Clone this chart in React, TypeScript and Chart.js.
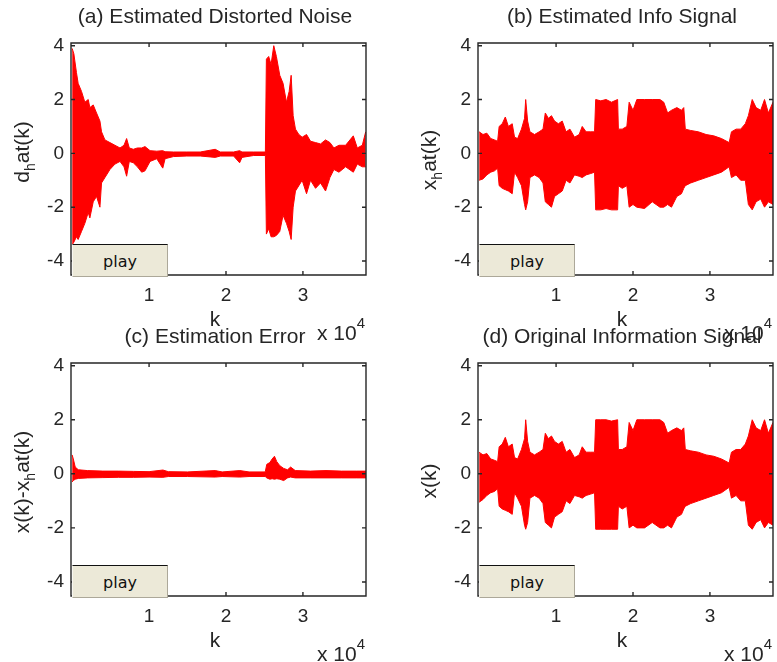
import React, { useEffect, useRef } from "react";
import { Chart, registerables } from "chart.js";

Chart.register(...registerables);

const W = 777;
const H = 662;
const RED = "#ff0000";
const INK = "#262626";
const FONT = "'Liberation Sans', Arial, Helvetica, sans-serif";

// shared axis limits and ticks (k in samples, shown in units of 10^4)
const K_MIN = -150;
const K_MAX = 38200;
const Y_MIN = -4.52;
const Y_MAX = 4.1;
const xTickValues = [10000, 20000, 30000];
const xTickLabels = ["1", "2", "3"];
const yTickValues = [-4, -2, 0, 2, 4];
const yTickLabels = ["-4", "-2", "0", "2", "4"];

// (a) estimated distorted noise: upper / lower envelope of the dense trace
const kNoise = [0, 220, 560, 780, 1220, 1650, 2090, 2300, 2740, 3170, 3610, 3820, 4260, 4910, 5560, 6220, 6740, 7080, 7430, 7950, 8480, 9040, 9470, 10130, 11000, 11780, 12080, 13170, 14910, 16650, 18600, 19250, 20990, 21770, 22080, 23600, 25120, 25250, 25550, 25860, 26210, 26550, 26990, 27420, 27860, 28210, 28470, 28730, 29030, 29470, 29900, 30470, 30990, 31640, 32290, 32940, 33510, 34030, 34680, 35550, 36550, 37070, 37720, 38160];
const noiseHi = [3.9, 3.7, 3.0, 2.6, 2.3, 1.9, 2.0, 1.7, 1.8, 1.5, 1.2, 0.8, 0.5, 0.4, 0.3, 0.2, 0.3, 0.55, 0.2, 0.15, 0.2, 0.2, 0.25, 0.1, 0.08, 0.1, 0.06, 0.05, 0.05, 0.05, 0.15, 0.05, 0.05, 0.1, 0.05, 0.05, 0.05, 3.5, 3.6, 3.3, 4.0, 3.6, 2.9, 2.6, 1.9, 2.3, 2.9, 1.4, 0.9, 0.7, 0.6, 0.7, 0.45, 0.4, 0.35, 0.5, 0.4, 0.2, 0.3, 0.3, 0.65, 0.2, 0.3, 0.8];
const noiseLo = [-3.4, -3.3, -3.1, -3.2, -2.9, -2.6, -2.2, -2.4, -1.8, -1.6, -2.0, -1.1, -0.9, -0.6, -0.4, -0.3, -0.5, -0.85, -0.3, -0.35, -0.5, -0.7, -0.65, -0.3, -0.2, -0.55, -0.2, -0.12, -0.1, -0.1, -0.15, -0.1, -0.1, -0.35, -0.15, -0.08, -0.08, -3.0, -2.8, -3.1, -3.1, -3.05, -2.9, -2.3, -2.6, -2.9, -3.2, -2.0, -1.4, -1.2, -1.0, -1.5, -1.0, -1.3, -1.1, -1.4, -0.9, -0.6, -0.7, -0.5, -0.7, -0.4, -0.5, -0.5];

// (b) estimated information signal
const kInfo = [0, 500, 1000, 1500, 2000, 2400, 2600, 3000, 3400, 3800, 4300, 4600, 5000, 5500, 5900, 6050, 6300, 6600, 7200, 7800, 8300, 8600, 9000, 9400, 9800, 10300, 10800, 11300, 11800, 12400, 13000, 13400, 13900, 14500, 15000, 15150, 15800, 16500, 17200, 18000, 18100, 18600, 19200, 19500, 20000, 20500, 21500, 22500, 23500, 24000, 24500, 25000, 25700, 26300, 26600, 26800, 27500, 28500, 29500, 30500, 31500, 32500, 32800, 33400, 34000, 34600, 35000, 35500, 36000, 36600, 37100, 37600, 38200];
const infoHatHi = [0.8, 0.7, 0.75, 0.55, 0.5, 0.45, 1.0, 1.1, 1.35, 1.0, 1.1, 0.6, 0.55, 0.9, 1.3, 2.0, 1.2, 0.8, 0.7, 0.8, 0.9, 1.5, 1.3, 1.4, 1.2, 1.1, 1.2, 0.8, 0.9, 0.6, 0.7, 1.0, 0.8, 0.8, 0.8, 2.0, 1.95, 2.0, 1.9, 2.0, 0.9, 0.9, 1.0, 1.9, 1.6, 2.0, 2.0, 2.0, 2.0, 1.9, 1.5, 1.6, 1.7, 1.6, 1.7, 0.9, 0.85, 0.8, 0.7, 0.65, 0.55, 0.4, 0.8, 0.9, 0.9, 1.1, 1.4, 2.0, 1.7, 1.6, 2.0, 1.5, 1.9];
const infoHatLo = [-1.0, -0.95, -0.8, -0.7, -0.65, -0.55, -1.2, -1.3, -1.35, -1.4, -1.5, -0.7, -0.9, -1.2, -1.9, -2.1, -1.8, -0.9, -0.8, -0.9, -1.1, -1.8, -1.9, -2.0, -1.6, -1.5, -1.4, -1.0, -1.1, -0.8, -0.85, -0.9, -0.8, -0.75, -0.7, -2.1, -2.1, -2.05, -2.1, -2.1, -1.2, -1.3, -1.2, -2.0, -1.9, -2.0, -2.05, -1.8, -2.0, -2.0, -1.9, -2.0, -1.6, -1.5, -1.3, -1.2, -1.1, -1.0, -0.9, -0.8, -0.7, -0.5, -0.9, -0.8, -1.0, -1.0, -1.9, -2.1, -1.8, -1.7, -2.0, -1.8, -1.9];

// (c) estimation error x(k) - x_hat(k)
const kError = [0, 150, 400, 800, 2000, 4000, 6000, 8000, 10000, 11800, 12500, 15000, 18600, 19500, 21800, 23000, 25100, 25300, 25700, 26000, 26300, 26600, 27000, 27500, 28000, 28400, 29000, 31000, 33000, 35000, 37000, 38200];
const errorHi = [0.7, 0.55, 0.25, 0.15, 0.12, 0.1, 0.1, 0.09, 0.08, 0.14, 0.08, 0.07, 0.12, 0.07, 0.12, 0.07, 0.07, 0.35, 0.42, 0.55, 0.65, 0.45, 0.3, 0.2, 0.15, 0.25, 0.12, 0.1, 0.12, 0.1, 0.1, 0.1];
const errorLo = [-0.3, -0.25, -0.2, -0.17, -0.15, -0.14, -0.13, -0.13, -0.12, -0.13, -0.1, -0.1, -0.12, -0.1, -0.12, -0.1, -0.1, -0.15, -0.2, -0.18, -0.2, -0.18, -0.2, -0.25, -0.15, -0.12, -0.15, -0.15, -0.15, -0.15, -0.15, -0.15];

// (d) original information signal
const kOrig = [0, 500, 1000, 1500, 2000, 2400, 2600, 3000, 3400, 3800, 4300, 4600, 5000, 5500, 5900, 6050, 6300, 6600, 7200, 7800, 8300, 8600, 9000, 9400, 9800, 10300, 10800, 11300, 11800, 12400, 13000, 13400, 13900, 14500, 15000, 15150, 15800, 16500, 17200, 18000, 18100, 18600, 19200, 19500, 20000, 20500, 21500, 22500, 23500, 24000, 24500, 25000, 25700, 26300, 26600, 26800, 27500, 28500, 29500, 30500, 31500, 32500, 32800, 33400, 34000, 34600, 35000, 35500, 36000, 36600, 37100, 37600, 38200];
const infoHi = [0.8, 0.7, 0.75, 0.55, 0.5, 0.45, 1.0, 1.1, 1.35, 1.0, 1.1, 0.6, 0.55, 0.9, 1.3, 2.0, 1.2, 0.8, 0.7, 0.8, 0.9, 1.5, 1.3, 1.4, 1.2, 1.1, 1.2, 0.8, 0.9, 0.6, 0.7, 1.0, 0.8, 0.8, 0.8, 2.0, 2.0, 2.0, 1.95, 2.0, 0.9, 0.9, 1.0, 1.9, 1.6, 2.0, 2.0, 2.0, 2.0, 1.9, 1.5, 1.6, 1.7, 1.6, 1.7, 0.9, 0.85, 0.8, 0.7, 0.65, 0.55, 0.4, 0.8, 0.9, 0.9, 1.1, 1.4, 2.0, 1.7, 1.6, 2.0, 1.5, 1.9];
const infoLo = [-1.05, -0.95, -0.8, -0.7, -0.65, -0.55, -1.2, -1.3, -1.35, -1.4, -1.5, -0.7, -0.9, -1.2, -1.9, -2.05, -1.8, -0.9, -0.8, -0.9, -1.1, -1.8, -1.9, -2.0, -1.6, -1.5, -1.4, -1.0, -1.1, -0.8, -0.85, -0.9, -0.8, -0.75, -0.7, -2.05, -2.05, -2.05, -2.05, -2.05, -1.2, -1.3, -1.2, -2.0, -1.9, -2.0, -2.0, -1.8, -2.0, -2.0, -1.9, -2.0, -1.6, -1.5, -1.3, -1.2, -1.1, -1.0, -0.9, -0.8, -0.7, -0.5, -0.9, -0.8, -1.0, -1.0, -1.9, -2.05, -1.8, -1.7, -2.0, -1.8, -1.9];

type Run = { text: string; shift?: "sub" | "sup" };

interface Area { l: number; t: number; r: number; b: number }

interface Panel {
  key: string;
  title: string;
  yLabel: Run[];
  yLabelCenter: number;
  k: number[];
  hi: number[];
  lo: number[];
  area: Area;
}

const panels: Panel[] = [
  {
    key: "a",
    title: "(a) Estimated Distorted Noise",
    yLabel: [{ text: "d" }, { text: "h", shift: "sub" }, { text: "at(k)" }],
    yLabelCenter: 152,
    k: kNoise,
    hi: noiseHi,
    lo: noiseLo,
    area: { l: 71, t: 43, r: 366, b: 275 },
  },
  {
    key: "b",
    title: "(b) Estimated Info Signal",
    yLabel: [{ text: "x" }, { text: "h", shift: "sub" }, { text: "at(k)" }],
    yLabelCenter: 160,
    k: kInfo,
    hi: infoHatHi,
    lo: infoHatLo,
    area: { l: 478, t: 43, r: 773, b: 275 },
  },
  {
    key: "c",
    title: "(c) Estimation Error",
    yLabel: [{ text: "x(k)-x" }, { text: "h", shift: "sub" }, { text: "at(k)" }],
    yLabelCenter: 482,
    k: kError,
    hi: errorHi,
    lo: errorLo,
    area: { l: 71, t: 363, r: 366, b: 596 },
  },
  {
    key: "d",
    title: "(d) Original Information Signal",
    yLabel: [{ text: "x(k)" }],
    yLabelCenter: 481,
    k: kOrig,
    hi: infoHi,
    lo: infoLo,
    area: { l: 478, t: 363, r: 773, b: 596 },
  },
];

const Y_AXIS_W = 40;
const X_AXIS_H = 30;

function drawRuns(ctx: CanvasRenderingContext2D, runs: Run[], x: number, y: number, align: "left" | "center" | "right") {
  const fontFor = (r: Run) => (r.shift === "sub" ? `14px ${FONT}` : r.shift === "sup" ? `15px ${FONT}` : `21px ${FONT}`);
  let total = 0;
  const widths = runs.map((r) => {
    ctx.font = fontFor(r);
    const w = ctx.measureText(r.text).width;
    total += w;
    return w;
  });
  let cursor = align === "center" ? x - total / 2 : align === "right" ? x - total : x;
  ctx.textAlign = "left";
  ctx.textBaseline = "alphabetic";
  runs.forEach((r, i) => {
    ctx.font = fontFor(r);
    const dy = r.shift === "sub" ? 6 : r.shift === "sup" ? -12 : 0;
    ctx.fillText(r.text, cursor, y + dy);
    cursor += widths[i];
  });
}

// box, inward ticks and the axis annotations of one panel
function makeFramePlugin(panel: Panel) {
  return {
    id: `frame-${panel.key}`,
    afterDatasetsDraw(chart: any) {
      const { ctx, chartArea: a } = chart;
      const xs = chart.scales.x;
      const ys = chart.scales.y;
      const tick = 4;
      ctx.save();
      ctx.strokeStyle = INK;
      ctx.lineWidth = 1.4;
      ctx.beginPath();
      ctx.rect(a.left, a.top, a.right - a.left, a.bottom - a.top);
      xTickValues.forEach((v) => {
        const px = xs.getPixelForValue(v);
        ctx.moveTo(px, a.bottom);
        ctx.lineTo(px, a.bottom - tick);
        ctx.moveTo(px, a.top);
        ctx.lineTo(px, a.top + tick);
      });
      yTickValues.forEach((v) => {
        const py = ys.getPixelForValue(v);
        ctx.moveTo(a.left, py);
        ctx.lineTo(a.left + tick, py);
        ctx.moveTo(a.right, py);
        ctx.lineTo(a.right - tick, py);
      });
      ctx.stroke();

      ctx.fillStyle = INK;
      const cx = (a.left + a.right) / 2 - 3.5;
      ctx.font = `21px ${FONT}`;
      ctx.textAlign = "center";
      ctx.textBaseline = "alphabetic";
      ctx.fillText(panel.title, cx, a.top - 20);
      ctx.fillText("k", cx, a.bottom + 51);
      drawRuns(ctx, [{ text: "x 10" }, { text: "4", shift: "sup" }], a.right - 1, a.bottom + 65, "right");

      ctx.translate(a.left - 42, panel.yLabelCenter);
      ctx.rotate(-Math.PI / 2);
      drawRuns(ctx, panel.yLabel, 0, 0, "center");
      ctx.restore();
    },
  };
}

function SignalPanel({ panel }: { panel: Panel }) {
  const ref = useRef<HTMLCanvasElement | null>(null);

  useEffect(() => {
    if (!ref.current) return;
    const { area } = panel;
    const lower = panel.k.map((k, i) => ({ x: k, y: panel.lo[i] }));
    const upper = panel.k.map((k, i) => ({ x: k, y: panel.hi[i] }));
    const tickFont = { family: FONT, size: 19 };
    const chart = new Chart(ref.current, {
      type: "line",
      data: {
        datasets: [
          { data: lower, borderColor: RED, backgroundColor: RED, borderWidth: 1, pointRadius: 0, fill: false, tension: 0 },
          { data: upper, borderColor: RED, backgroundColor: RED, borderWidth: 1, pointRadius: 0, fill: "-1", tension: 0 },
        ],
      },
      options: {
        responsive: false,
        animation: false,
        events: [],
        layout: {
          padding: { left: area.l - Y_AXIS_W, top: area.t, right: W - area.r, bottom: H - area.b - X_AXIS_H },
        },
        plugins: {
          legend: { display: false },
          tooltip: { enabled: false },
        },
        scales: {
          x: {
            type: "linear",
            min: K_MIN,
            max: K_MAX,
            afterFit: (s: any) => {
              s.height = X_AXIS_H;
            },
            afterBuildTicks: (s: any) => {
              s.ticks = xTickValues.map((v) => ({ value: v }));
            },
            grid: { display: false, drawTicks: false },
            border: { display: false },
            ticks: {
              font: tickFont,
              color: INK,
              padding: 9,
              autoSkip: false,
              maxRotation: 0,
              callback: (_v: any, i: number) => xTickLabels[i],
            },
          },
          y: {
            type: "linear",
            min: Y_MIN,
            max: Y_MAX,
            afterFit: (s: any) => {
              s.width = Y_AXIS_W;
            },
            afterBuildTicks: (s: any) => {
              s.ticks = yTickValues.map((v) => ({ value: v }));
            },
            grid: { display: false, drawTicks: false },
            border: { display: false },
            ticks: {
              font: tickFont,
              color: INK,
              padding: 7,
              autoSkip: false,
              callback: (_v: any, i: number) => yTickLabels[i],
            },
          },
        },
      },
      plugins: [makeFramePlugin(panel)],
    });
    return () => chart.destroy();
  }, [panel]);

  return (
    <canvas
      ref={ref}
      width={W}
      height={H}
      style={{ position: "absolute", left: 0, top: 0, width: W, height: H }}
    />
  );
}

function PlayButton({ area }: { area: Area }) {
  return (
    <div
      style={{
        position: "absolute",
        left: area.l + 1,
        top: area.b - 31,
        width: 96,
        height: 33,
        boxSizing: "border-box",
        background: "#ece9d8",
        borderTop: "1.5px solid #111",
        borderLeft: "1px solid #f7f6f0",
        borderRight: "1px solid #aca899",
        borderBottom: "1px solid #aca899",
        display: "flex",
        alignItems: "center",
        justifyContent: "center",
        fontFamily: "'DejaVu Sans', sans-serif",
        fontSize: 16,
        color: "#111",
        lineHeight: 1,
        paddingTop: 2,
      }}
    >
      play
    </div>
  );
}

export default function App() {
  return (
    <div
      style={{
        position: "fixed",
        left: 0,
        top: 0,
        width: W,
        height: H,
        background: "#ffffff",
        overflow: "hidden",
      }}
    >
      {panels.map((p) => (
        <SignalPanel key={p.key} panel={p} />
      ))}
      {panels.map((p) => (
        <PlayButton key={`btn-${p.key}`} area={p.area} />
      ))}
    </div>
  );
}
